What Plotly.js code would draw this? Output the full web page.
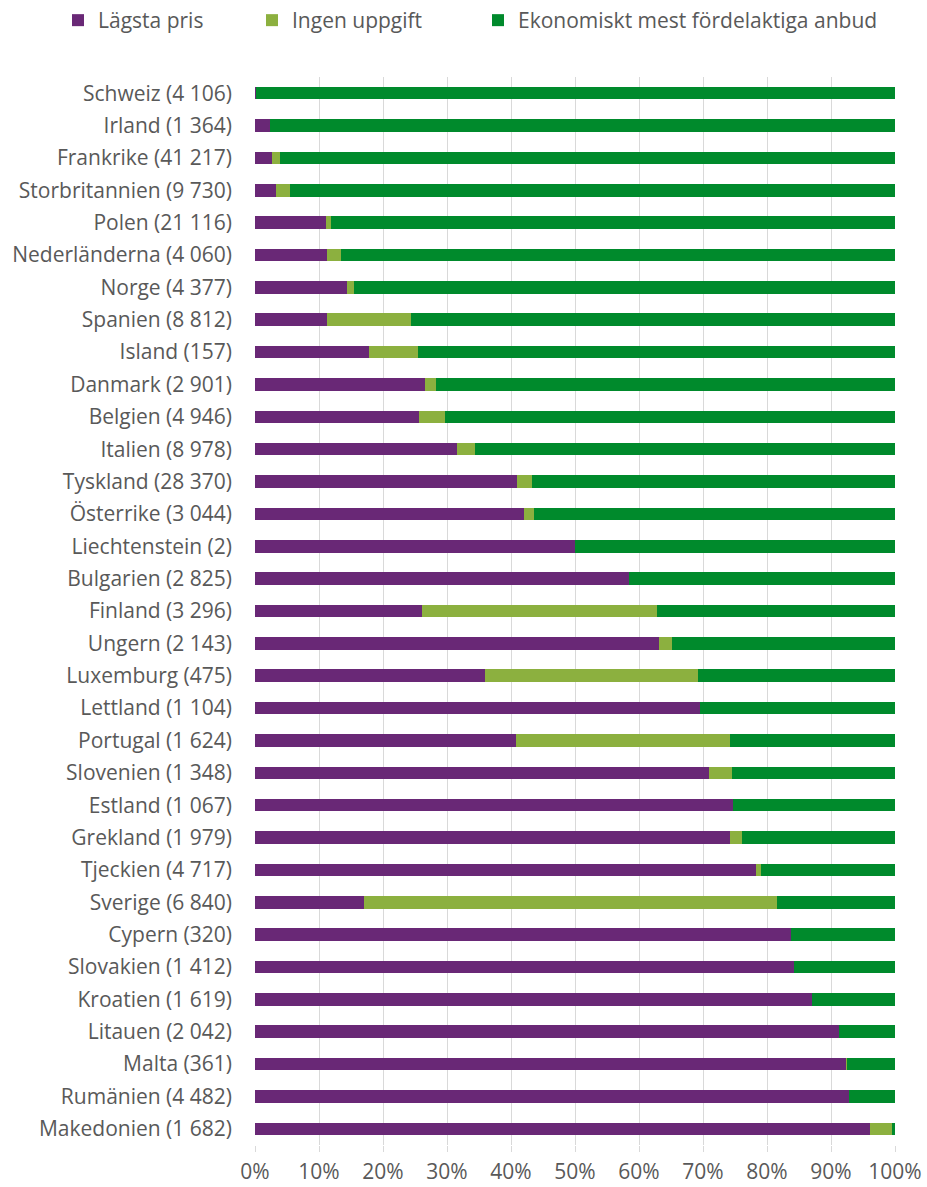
<!DOCTYPE html>
<html>
<head>
<meta charset="utf-8">
<script src="https://cdn.plot.ly/plotly-3.0.1.min.js"></script>
<style>html,body{margin:0;padding:0;background:#fff;}#chart{width:927px;height:1187px;}</style>
</head>
<body>
<div id="chart"></div>
<script>
const countries = ["Schweiz","Irland","Frankrike","Storbritannien","Polen","Nederländerna","Norge","Spanien","Island","Danmark","Belgien","Italien","Tyskland","Österrike","Liechtenstein","Bulgarien","Finland","Ungern","Luxemburg","Lettland","Portugal","Slovenien","Estland","Grekland","Tjeckien","Sverige","Cypern","Slovakien","Kroatien","Litauen","Malta","Rumänien","Makedonien"];
const counts = ["4 106","1 364","41 217","9 730","21 116","4 060","4 377","8 812","157","2 901","4 946","8 978","28 370","3 044","2","2 825","3 296","2 143","475","1 104","1 624","1 348","1 067","1 979","4 717","6 840","320","1 412","1 619","2 042","361","4 482","1 682"];
const lagstaPris = [0.1,2.3,2.6,3.3,11.1,11.3,14.3,11.3,17.8,26.6,25.6,31.5,41.0,42.0,50.0,58.5,26.1,63.1,35.9,69.6,40.8,71.0,74.7,74.2,78.3,17.1,83.8,84.2,87.1,91.2,92.3,92.8,96.1];
const ingenUppgift = [0,0,1.3,2.2,0.8,2.2,1.2,13.1,7.7,1.7,4.1,2.9,2.3,1.6,0,0,36.7,2.0,33.3,0,33.4,3.5,0,1.9,0.7,64.5,0,0,0,0,0.2,0,3.5];
const ekonomiskt = [99.9,97.7,96.1,94.5,88.1,86.5,84.5,75.6,74.5,71.7,70.3,65.6,56.7,56.4,50.0,41.5,37.2,34.9,30.8,30.4,25.8,25.5,25.3,23.9,21.0,18.4,16.2,15.8,12.9,8.8,7.5,7.2,0.4];
const seriesNames = ["Lägsta pris","Ingen uppgift","Ekonomiskt mest fördelaktiga anbud"];
const xTickVals = [0,10,20,30,40,50,60,70,80,90,100];

const labels = countries.map((c,i) => c + " (" + counts[i] + ")");
const colors = ["#692876","#8cb03f","#008a2c"];
const legendIds = ["legend","legend2","legend3"];
const legendX = [58, 252, 478];
const data = [lagstaPris, ingenUppgift, ekonomiskt].map((vals,k) => ({
  type: "bar", orientation: "h", name: seriesNames[k],
  x: vals, y: labels, legend: legendIds[k],
  marker: {color: colors[k], line: {width: 0}},
  hoverinfo: "skip"
}));

const layout = {
  width: 927, height: 1187,
  margin: {l: 255, r: 32, t: 77, b: 42},
  barmode: "stack",
  bargap: 0.61,
  paper_bgcolor: "#fff", plot_bgcolor: "#fff",
  font: {family: "'Open Sans', sans-serif", size: 21, color: "#595959"},
  showlegend: true,
  xaxis: {range: [0,100], tickvals: xTickVals, ticktext: xTickVals.map(v => v + "%"),
          showgrid: true, gridcolor: "#d9d9d9", gridwidth: 1, zeroline: false, showline: false,
          ticks: "outside", ticklen: 6, tickcolor: "#d9d9d9", ticklabelstandoff: 2,
          tickfont: {size: 21, color: "#595959"}, fixedrange: true},
  yaxis: {autorange: "reversed", type: "category", showgrid: false, zeroline: false, showline: false,
          ticks: "", ticklabelstandoff: 22, tickfont: {size: 21, color: "#595959"}, fixedrange: true}
};
legendIds.forEach((id,k) => {
  layout[id] = {orientation: "h", x: legendX[k] / 927, xref: "container", xanchor: "left",
                y: 1.0, yanchor: "top", yref: "container", bgcolor: "rgba(0,0,0,0)",
                font: {size: 21, color: "#595959"}, itemwidth: 30};
});
Plotly.newPlot("chart", data, layout, {displayModeBar: false, staticPlot: true});
</script>
</body>
</html>
